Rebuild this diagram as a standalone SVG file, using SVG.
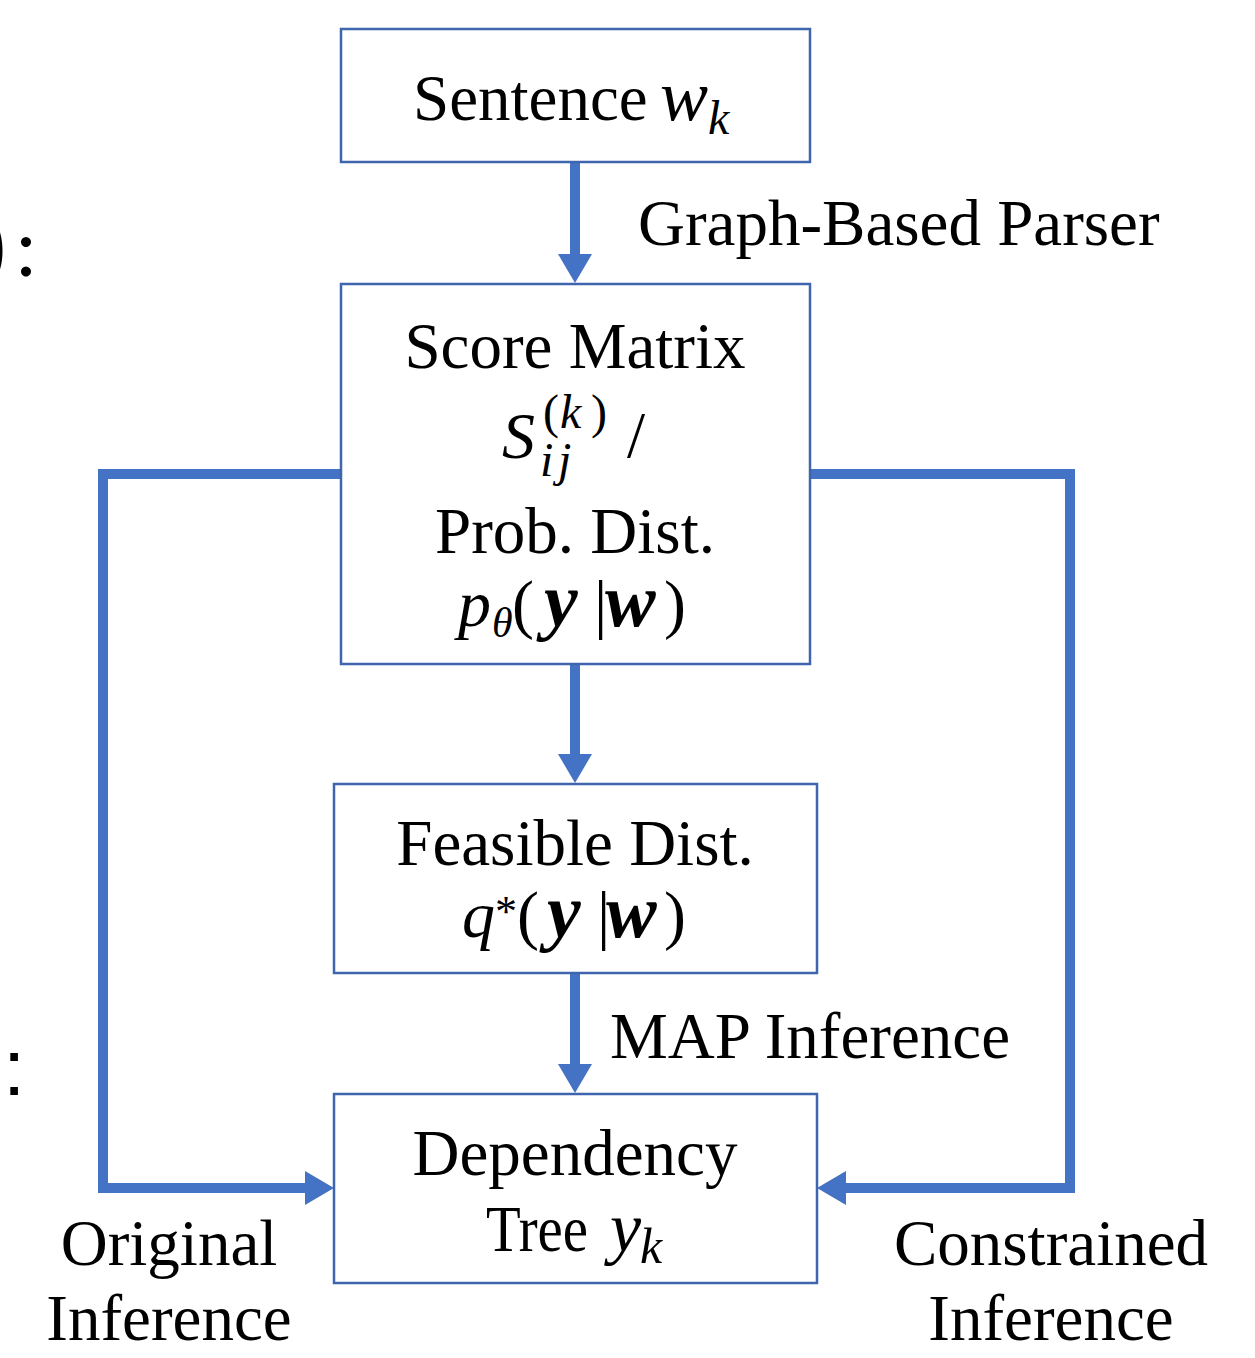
<svg xmlns="http://www.w3.org/2000/svg" width="1255" height="1358" viewBox="0 0 1255 1358">
<style>
.box{fill:#fff;stroke:#3F65AE;stroke-width:2.5}
.t{font-family:"Liberation Serif","Times New Roman",serif;font-size:65px;fill:#000}
.m{font-family:"Liberation Serif","Times New Roman",serif;font-style:italic;fill:#000}
.n{font-style:normal}
.b{font-weight:bold}
.c{fill:none;stroke:#4472C4;stroke-width:10}
</style>
<defs>
<marker id="ah" markerUnits="userSpaceOnUse" markerWidth="30" markerHeight="34" refX="0" refY="17" orient="auto">
<path d="M0,0 L29,17 L0,34 z" fill="#4472C4"/>
</marker>
</defs>
<g id="connectors">
<line class="c" x1="575" y1="162" x2="575" y2="254" marker-end="url(#ah)"/>
<line class="c" x1="575" y1="664" x2="575" y2="754" marker-end="url(#ah)"/>
<line class="c" x1="575" y1="973" x2="575" y2="1064" marker-end="url(#ah)"/>
<polyline class="c" points="341,474 103,474 103,1188 305,1188" marker-end="url(#ah)"/>
<polyline class="c" points="810,474 1070,474 1070,1188 846,1188" marker-end="url(#ah)"/>
</g>
<g id="sentence">
<rect class="box" x="341" y="29" width="469" height="133"/>
<text class="t" x="413" y="120">Sentence</text>
<text class="m" y="120" font-size="72"><tspan x="660">w</tspan><tspan x="708" y="134" font-size="48">k</tspan></text>
</g>
<g id="score">
<rect class="box" x="341" y="284" width="469" height="380"/>
<text class="t" x="575" y="368" text-anchor="middle">Score Matrix</text>
<text class="m" x="502" y="458" font-size="66">S</text>
<text class="m" y="428" font-size="48"><tspan class="n" x="543">(</tspan><tspan x="560">k</tspan><tspan class="n" x="591">)</tspan></text>
<text class="m" y="476" font-size="48"><tspan x="540">i</tspan><tspan x="558">j</tspan></text>
<text class="t" x="627" y="457">/</text>
<text class="t" x="575" y="553" text-anchor="middle">Prob. Dist.</text>
<text class="m" y="626" font-size="66"><tspan x="458">p</tspan><tspan x="492" y="637" font-size="42">θ</tspan><tspan class="n" x="512" y="626">(</tspan><tspan class="b" x="544" font-size="76">y</tspan><tspan class="n" x="594">|</tspan><tspan class="b" x="605" font-size="76">w</tspan><tspan class="n" x="664">)</tspan></text>
</g>
<g id="feasible">
<rect class="box" x="334" y="784" width="483" height="189"/>
<text class="t" x="575" y="865" text-anchor="middle">Feasible Dist.</text>
<text class="m" y="937" font-size="66"><tspan x="462">q</tspan><tspan class="n" x="495" y="926" font-size="44">*</tspan><tspan class="n" x="517" y="937">(</tspan><tspan class="b" x="547" font-size="76">y</tspan><tspan class="n" x="597">|</tspan><tspan class="b" x="606" font-size="76">w</tspan><tspan class="n" x="664">)</tspan></text>
</g>
<g id="tree">
<rect class="box" x="334" y="1094" width="483" height="189"/>
<text class="t" x="575" y="1175" text-anchor="middle">Dependency</text>
<text class="t" x="486" y="1251" textLength="102" lengthAdjust="spacingAndGlyphs">Tree</text>
<text class="m" y="1251" font-size="70"><tspan x="610">y</tspan><tspan x="640" y="1263" font-size="50">k</tspan></text>
</g>
<g id="labels">
<text class="t" x="638" y="245">Graph-Based Parser</text>
<text class="t" x="610" y="1058">MAP Inference</text>
<text class="t" x="169" y="1265" text-anchor="middle">Original</text>
<text class="t" x="169" y="1340" text-anchor="middle">Inference</text>
<text class="t" x="1051" y="1265" text-anchor="middle">Constrained</text>
<text class="t" x="1051" y="1340" text-anchor="middle">Inference</text>
<text x="6" y="276" font-family="Lato,sans-serif" font-size="80" text-anchor="end">)</text>
<text x="16" y="276" font-family="Lato,sans-serif" font-size="80">:</text>
<text x="3" y="1095" font-family="'Liberation Sans',Arial,sans-serif" font-size="80">:</text>
</g>
</svg>
